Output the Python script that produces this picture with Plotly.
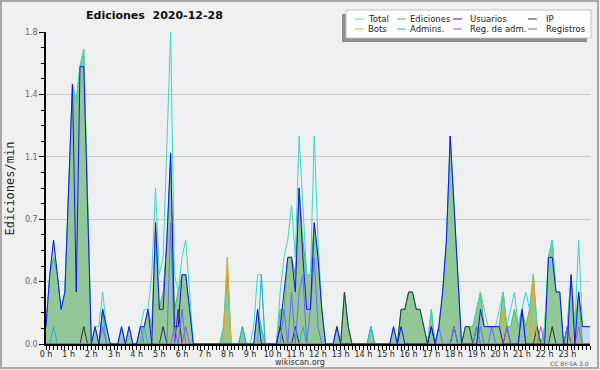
import plotly.graph_objects as go

# ---------------- data (edits/min, 10-minute bins, 0h .. 24h) ----------------
hours = [f"{h} h" for h in range(24)]

total = [
    0.1, 0.4, 0.6, 0.4, 0.2, 0.3,
    0.9, 1.5, 1.4, 1.6, 1.7, 0.8,
    0, 0.1, 0.1, 0.3, 0.1, 0,
    0, 0, 0.1, 0, 0.1, 0,
    0, 0.1, 0.2, 0.2, 0.4, 0.9,
    0.4, 0.5, 1.1, 1.8, 0.4, 0.3,
    0.5, 0.6, 0.3, 0, 0, 0,
    0, 0, 0, 0, 0, 0.1,
    0.5, 0, 0, 0, 0.1, 0,
    0, 0.1, 0.4, 0.4, 0, 0,
    0, 0, 0.3, 0.5, 0.6, 0.8,
    0.5, 1.2, 0.8, 0.4, 0.4, 1.2,
    0.6, 0.2, 0, 0, 0, 0.1,
    0, 0.3, 0.1, 0, 0, 0,
    0, 0, 0.1, 0, 0, 0,
    0, 0, 0.1, 0, 0.2, 0.2,
    0.3, 0.3, 0.2, 0.2, 0.1, 0,
    0.2, 0, 0.1, 0.3, 0.6, 1.2,
    0.8, 0.4, 0, 0.1, 0.1, 0.1,
    0.2, 0.3, 0.2, 0.1, 0.1, 0.1,
    0.2, 0.3, 0.1, 0.2, 0.3, 0.1,
    0.2, 0.3, 0.2, 0.4, 0.1, 0,
    0.1, 0.5, 0.6, 0.3, 0.3, 0,
    0.1, 0.4, 0.1, 0.6, 0.1, 0.1,
    0.1,
]

ediciones = [
    0.1, 0.4, 0.5, 0.4, 0.2, 0.3,
    0.9, 1.5, 1.4, 1.6, 1.7, 0.8,
    0, 0.1, 0, 0.2, 0.1, 0,
    0, 0, 0.1, 0, 0.1, 0,
    0, 0.1, 0.1, 0.2, 0.1, 0.7,
    0.2, 0.3, 0.6, 1.1, 0.2, 0.3,
    0.4, 0.4, 0.2, 0, 0, 0,
    0, 0, 0, 0, 0, 0.1,
    0.4, 0, 0, 0, 0.1, 0,
    0, 0, 0.2, 0.1, 0, 0,
    0, 0, 0.2, 0.2, 0.5, 0.5,
    0.4, 0.9, 0.6, 0.4, 0.4, 0.7,
    0.5, 0.2, 0, 0, 0, 0.1,
    0, 0.3, 0.1, 0, 0, 0,
    0, 0, 0.1, 0, 0, 0,
    0, 0, 0.1, 0, 0.2, 0.2,
    0.3, 0.3, 0.2, 0.2, 0.1, 0,
    0.2, 0, 0.1, 0.3, 0.6, 1.2,
    0.8, 0.4, 0, 0.1, 0.1, 0.1,
    0.2, 0.3, 0.1, 0.1, 0.1, 0.1,
    0.1, 0.3, 0.1, 0.1, 0.2, 0.1,
    0.2, 0.1, 0.2, 0.4, 0.1, 0,
    0.1, 0.5, 0.6, 0.3, 0.3, 0,
    0.1, 0.4, 0.1, 0.3, 0, 0,
    0,
]

usuarios = [
    0.1, 0.4, 0.6, 0.4, 0.2, 0.3,
    0.9, 1.5, 0.3, 1.6, 1.6, 0.8,
    0, 0.1, 0, 0.2, 0.1, 0,
    0, 0, 0.1, 0, 0.1, 0,
    0, 0.1, 0.1, 0.2, 0, 0.7,
    0.2, 0.2, 0.6, 1.1, 0.1, 0.1,
    0.4, 0.4, 0.2, 0, 0, 0,
    0, 0, 0, 0, 0, 0,
    0, 0, 0, 0, 0, 0,
    0, 0, 0.2, 0, 0, 0,
    0, 0, 0.1, 0.3, 0.5, 0.5,
    0.3, 0.9, 0.5, 0.2, 0.2, 0.7,
    0.5, 0.2, 0, 0, 0, 0.1,
    0, 0, 0, 0, 0, 0,
    0, 0, 0, 0, 0, 0,
    0, 0, 0.1, 0, 0.1, 0,
    0, 0, 0, 0, 0, 0,
    0.1, 0, 0.1, 0.3, 0.6, 1.2,
    0.8, 0.4, 0, 0, 0, 0,
    0, 0.2, 0.1, 0.1, 0.1, 0.1,
    0.1, 0, 0, 0, 0, 0,
    0.2, 0, 0, 0, 0, 0,
    0, 0.5, 0.5, 0.3, 0.3, 0,
    0, 0.4, 0, 0.3, 0.1, 0.1,
    0.1,
]

# sparse series: bin index -> value
ip_bins = [10, 31, 35, 62, 66, 79, 80, 94, 95, 96, 97, 98, 99, 100, 102, 108, 111, 112, 114, 122, 130, 134, 138]
ip_vals = [0.1, 0.1, 0.2, 0.1, 0.1, 0.3, 0.1, 0.2, 0.2, 0.3, 0.3, 0.2, 0.2, 0.1, 0.1, 0.1, 0.1, 0.1, 0.1, 0.1, 0.1, 0.1, 0.1]

bots_bins = [48, 121, 129, 140]
bots_vals = [0.5, 0.2, 0.4, 0.1]

admins_bins = [2, 15, 26, 52, 57, 68, 86, 114]
admins_vals = [0.1, 0.2, 0.1, 0.1, 0.4, 0.1, 0.1, 0.1]

regadm_bins = [34, 37]
regadm_vals = [0.1, 0.1]

registros_bins = [15, 25, 33, 36, 63, 65, 67, 68, 70, 71, 72, 77, 104, 108, 115, 118, 122, 126, 131, 138, 141]
registros_vals = [0.1, 0.1, 0.7, 0.2, 0.2, 0.3, 0.3, 0.4, 0.2, 0.5, 0.1, 0.1, 0.1, 0.1, 0.1, 0.1, 0.1, 0.2, 0.1, 0.1, 0.1]

y_ticks = [0, 0.36, 0.72, 1.08, 1.44, 1.8]
y_ticktext = ["0.0", "0.4", "0.7", "1.1", "1.4", "1.8"]

NB = len(total)
xs = [i / 6 for i in range(NB)]


def dense(bins, vals):
    out = [0.0] * NB
    for b, v in zip(bins, vals):
        out[b] = v
    return out


ip = dense(ip_bins, ip_vals)
bots = dense(bots_bins, bots_vals)
admins = dense(admins_bins, admins_vals)
regadm = dense(regadm_bins, regadm_vals)
registros = dense(registros_bins, registros_vals)

C_TOTAL = "#3fd6c6"
C_ED = "#4cbb4c"
C_US = "#1414f0"
C_IP = "#333333"
C_BOTS = "#f5a020"
C_ADM = "#20b0e0"
C_REG = "#c040f0"
C_REGS = "#6a6aff"

fig = go.Figure()
# area fills (users light blue underneath, edits green on top)
fig.add_trace(go.Scatter(x=xs, y=usuarios, mode="lines", line=dict(width=0, color=C_US),
                         fill="tozeroy", fillcolor="#c3dbe8", showlegend=False, hoverinfo="skip"))
fig.add_trace(go.Scatter(x=xs, y=ediciones, mode="lines", name="Ediciones", line=dict(width=1, color=C_ED),
                         fill="tozeroy", fillcolor="#92c898", showlegend=False))
fig.add_trace(go.Scatter(x=xs, y=total, mode="lines", name="Total", line=dict(width=1, color=C_TOTAL), showlegend=False))
fig.add_trace(go.Scatter(x=xs, y=ip, mode="lines", name="IP", line=dict(width=1, color=C_IP), showlegend=False))
fig.add_trace(go.Scatter(x=xs, y=bots, mode="lines", name="Bots", line=dict(width=1, color=C_BOTS), showlegend=False))
fig.add_trace(go.Scatter(x=xs, y=admins, mode="lines", name="Admins.", line=dict(width=1, color=C_ADM), showlegend=False))
fig.add_trace(go.Scatter(x=xs, y=regadm, mode="lines", name="Reg. de adm.", line=dict(width=1, color=C_REG), showlegend=False))
fig.add_trace(go.Scatter(x=xs, y=registros, mode="lines", name="Registros", line=dict(width=1, color=C_REGS), showlegend=False))
fig.add_trace(go.Scatter(x=xs, y=usuarios, mode="lines", name="Usuarios", line=dict(width=1, color=C_US), showlegend=False))

# ---------------- layout ----------------
L, R, T, B = 46, 10, 32, 26
W, H = 600, 370
PW, PH = W - L - R, H - T - B


def px(x):
    return (x - L) / PW


def py(y):
    return (H - B - y) / PH


shapes = []
annotations = []

# outer frame
shapes.append(dict(type="rect", xref="paper", yref="paper", x0=px(1), x1=px(598), y0=py(1), y1=py(368),
                   line=dict(color="#a8a8a8", width=2), fillcolor="rgba(0,0,0,0)", layer="below"))

# legend box (shadow + box)
shapes.append(dict(type="rect", xref="paper", yref="paper", x0=px(342), x1=px(587), y0=py(42), y1=py(14),
                   line=dict(width=0), fillcolor="#8e8e8e", layer="above"))
shapes.append(dict(type="rect", xref="paper", yref="paper", x0=px(346), x1=px(591), y0=py(38), y1=py(10),
                   line=dict(color="#c0c0c0", width=1), fillcolor="#ffffff", layer="above"))

legend_items = [
    ("Total", C_TOTAL, 355, 366, 19), ("Ediciones", C_ED, 397, 408, 19),
    ("Usuarios", C_US, 453, 468, 19), ("IP", C_IP, 528, 544, 19),
    ("Bots", C_BOTS, 355, 366, 29), ("Admins.", C_ADM, 397, 408, 29),
    ("Reg. de adm.", C_REG, 453, 468, 29), ("Registros", C_REGS, 528, 544, 29),
]
for name, col, sx, tx, yy in legend_items:
    shapes.append(dict(type="line", xref="paper", yref="paper", x0=px(sx), x1=px(sx + 9), y0=py(yy), y1=py(yy),
                       line=dict(color=col, width=1), layer="above"))
    annotations.append(dict(text=name, xref="paper", yref="paper", x=px(tx), y=py(yy), xanchor="left",
                            yanchor="middle", showarrow=False, font=dict(family="DejaVu Sans", size=8.5, color="#222")))

annotations += [
    dict(text="<b>Ediciones  2020-12-28</b>", xref="paper", yref="paper", x=px(154), y=py(16),
         xanchor="center", yanchor="middle", showarrow=False,
         font=dict(family="DejaVu Sans", size=11, color="#111")),
    dict(text="Ediciones/min", xref="paper", yref="paper", x=px(9.5), y=py(189), textangle=-90,
         xanchor="center", yanchor="middle", showarrow=False,
         font=dict(family="DejaVu Sans Mono", size=12, color="#222")),
    dict(text="wikiscan.org", xref="paper", yref="paper", x=px(300), y=py(362),
         xanchor="center", yanchor="middle", showarrow=False,
         font=dict(family="DejaVu Sans", size=8, color="#333")),
    dict(text="CC BY-SA 3.0", xref="paper", yref="paper", x=px(569), y=py(363),
         xanchor="center", yanchor="middle", showarrow=False,
         font=dict(family="DejaVu Sans", size=6, color="#555")),
]

fig.update_layout(
    width=W, height=H,
    margin=dict(l=L, r=R, t=T, b=B, pad=0),
    paper_bgcolor="#f0f0f0",
    plot_bgcolor="#edeff1",
    showlegend=False,
    shapes=shapes,
    annotations=annotations,
    xaxis=dict(range=[0, 24], tickvals=list(range(24)), ticktext=hours, ticks="outside", ticklen=4,
               tickcolor="#000", tickwidth=1, showline=True, linecolor="#000", linewidth=2,
               showgrid=False, zeroline=False, ticklabelstandoff=-3,
               minor=dict(dtick=1 / 6, ticks="outside", ticklen=4, tickcolor="#000", showgrid=False),
               tickfont=dict(family="DejaVu Sans", size=8, color="#222")),
    yaxis=dict(range=[0, 1.8], tickvals=y_ticks, ticktext=y_ticktext, ticks="outside", ticklen=5,
               tickcolor="#000", showline=True, linecolor="#000", linewidth=1.5,
               showgrid=True, gridcolor="#c8c8c8", gridwidth=1, zeroline=False,
               minor=dict(dtick=0.09, ticks="outside", ticklen=3, tickcolor="#000", showgrid=False),
               tickfont=dict(family="DejaVu Sans", size=8, color="#666")),
)

fig.write_html("out.html", config={"displayModeBar": False},
               post_script="document.body.style.margin='0px';")
